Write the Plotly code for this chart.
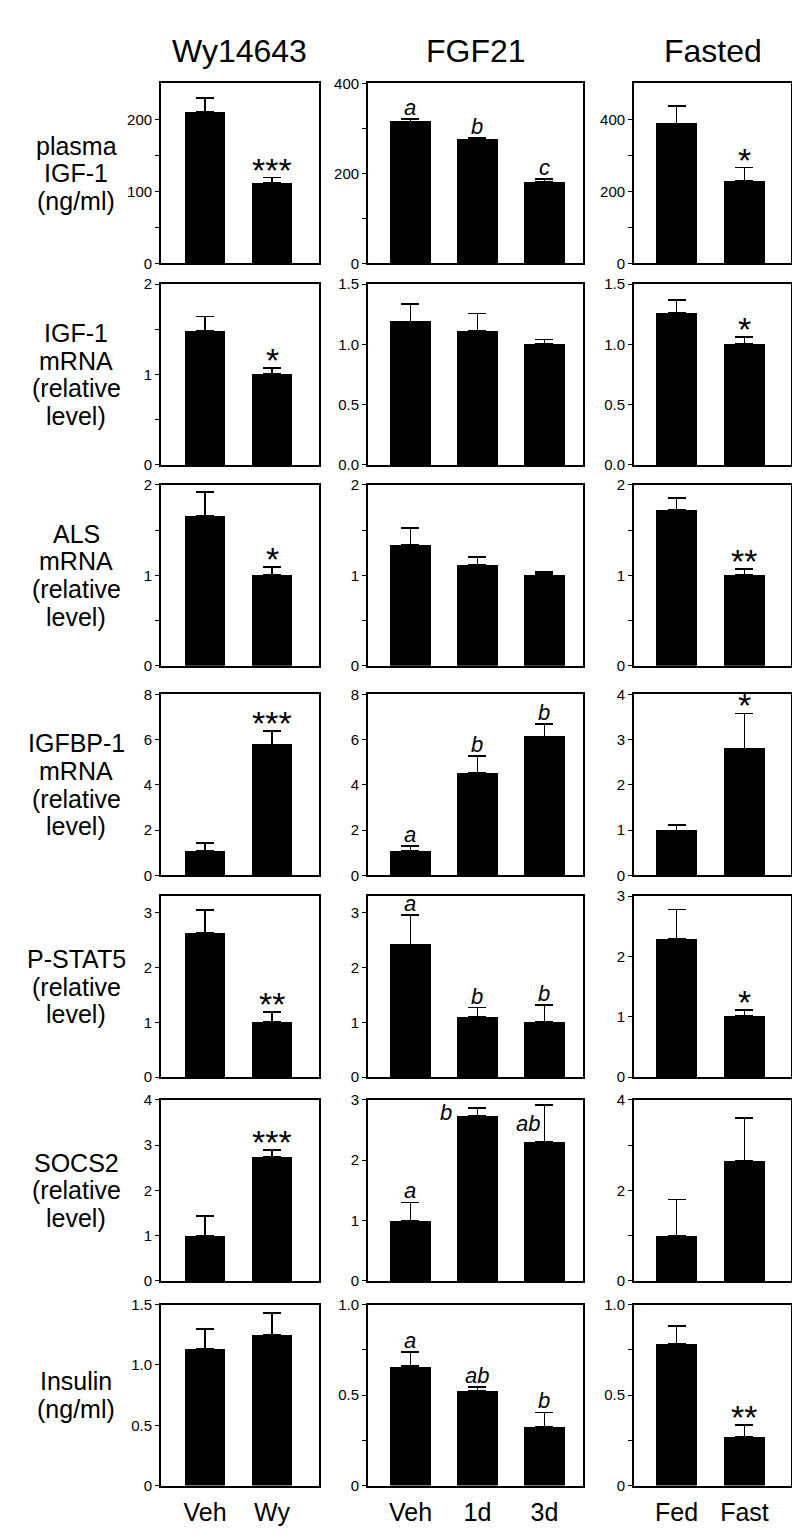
import plotly.graph_objects as go

W, H = 800, 1540
FONT = "Liberation Sans, Arial, Helvetica, sans-serif"

# ---------------- data ----------------
col_titles = ["Wy14643", "FGF21", "Fasted"]
wy_groups = ["Veh", "Wy"]
fgf_groups = ["Veh", "1d", "3d"]
fast_groups = ["Fed", "Fast"]
groups = [wy_groups, fgf_groups, fast_groups]

row_labels = [
    ["plasma", "IGF-1", "(ng/ml)"],
    ["IGF-1", "mRNA", "(relative", "level)"],
    ["ALS", "mRNA", "(relative", "level)"],
    ["IGFBP-1", "mRNA", "(relative", "level)"],
    ["P-STAT5", "(relative", "level)"],
    ["SOCS2", "(relative", "level)"],
    ["Insulin", "(ng/ml)"],
]

# plasma IGF-1 (ng/ml)
igf1_plasma_wy = [210, 111]
igf1_plasma_wy_sem = [20, 8]
igf1_plasma_fgf = [315, 275, 180]
igf1_plasma_fgf_sem = [5, 3, 7]
igf1_plasma_fast = [388, 229]
igf1_plasma_fast_sem = [48, 37]

# IGF-1 mRNA
igf1_mrna_wy = [1.48, 1.01]
igf1_mrna_wy_sem = [0.16, 0.06]
igf1_mrna_fgf = [1.19, 1.11, 1.005]
igf1_mrna_fgf_sem = [0.145, 0.145, 0.035]
igf1_mrna_fast = [1.26, 1.005]
igf1_mrna_fast_sem = [0.105, 0.055]

# ALS mRNA
als_wy = [1.66, 1.005]
als_wy_sem = [0.26, 0.09]
als_fgf = [1.34, 1.12, 1.01]
als_fgf_sem = [0.185, 0.08, 0.03]
als_fast = [1.72, 1.005]
als_fast_sem = [0.13, 0.06]

# IGFBP-1 mRNA
igfbp1_wy = [1.07, 5.78]
igfbp1_wy_sem = [0.38, 0.61]
igfbp1_fgf = [1.08, 4.51, 6.13]
igfbp1_fgf_sem = [0.23, 0.76, 0.56]
igfbp1_fast = [0.99, 2.80]
igfbp1_fast_sem = [0.13, 0.78]

# P-STAT5
pstat5_wy = [2.63, 1.00]
pstat5_wy_sem = [0.42, 0.19]
pstat5_fgf = [2.42, 1.09, 1.01]
pstat5_fgf_sem = [0.54, 0.18, 0.31]
pstat5_fast = [2.29, 1.01]
pstat5_fast_sem = [0.49, 0.10]

# SOCS2
socs2_wy = [1.00, 2.74]
socs2_wy_sem = [0.43, 0.16]
socs2_fgf = [1.00, 2.73, 2.31]
socs2_fgf_sem = [0.30, 0.13, 0.61]
socs2_fast = [1.00, 2.655]
socs2_fast_sem = [0.80, 0.95]

# Insulin (ng/ml)
insulin_wy = [1.134, 1.252]
insulin_wy_sem = [0.164, 0.18]
insulin_fgf = [0.66, 0.525, 0.327]
insulin_fgf_sem = [0.08, 0.02, 0.077]
insulin_fast = [0.782, 0.271]
insulin_fast_sem = [0.098, 0.064]

# significance marks
marks = [
    [["", "***"], ["a", "b", "c"], ["", "*"]],
    [["", "*"], ["", "", ""], ["", "*"]],
    [["", "*"], ["", "", ""], ["", "**"]],
    [["", "***"], ["a", "b", "b"], ["", "*"]],
    [["", "**"], ["a", "b", "b"], ["", "*"]],
    [["", "***"], ["a", "b", "ab"], ["", ""]],
    [["", ""], ["a", "ab", "b"], ["", "**"]],
]

means = [
    [igf1_plasma_wy, igf1_plasma_fgf, igf1_plasma_fast],
    [igf1_mrna_wy, igf1_mrna_fgf, igf1_mrna_fast],
    [als_wy, als_fgf, als_fast],
    [igfbp1_wy, igfbp1_fgf, igfbp1_fast],
    [pstat5_wy, pstat5_fgf, pstat5_fast],
    [socs2_wy, socs2_fgf, socs2_fast],
    [insulin_wy, insulin_fgf, insulin_fast],
]
sems = [
    [igf1_plasma_wy_sem, igf1_plasma_fgf_sem, igf1_plasma_fast_sem],
    [igf1_mrna_wy_sem, igf1_mrna_fgf_sem, igf1_mrna_fast_sem],
    [als_wy_sem, als_fgf_sem, als_fast_sem],
    [igfbp1_wy_sem, igfbp1_fgf_sem, igfbp1_fast_sem],
    [pstat5_wy_sem, pstat5_fgf_sem, pstat5_fast_sem],
    [socs2_wy_sem, socs2_fgf_sem, socs2_fast_sem],
    [insulin_wy_sem, insulin_fgf_sem, insulin_fast_sem],
]

# y-axis: (max, tick values, tick labels)
def ax(mx, vals, labs):
    return dict(mx=mx, vals=vals, labs=labs)

yaxes_cfg = [
    [ax(250, [0, 50, 100, 150, 200], ["0", "", "100", "", "200"]),
     ax(400, [0, 100, 200, 300, 400], ["0", "", "200", "", "400"]),
     ax(500, [0, 100, 200, 300, 400], ["0", "", "200", "", "400"])],
    [ax(2, [0, 0.5, 1, 1.5, 2], ["0", "", "1", "", "2"]),
     ax(1.5, [0, 0.5, 1, 1.5], ["0.0", "0.5", "1.0", "1.5"]),
     ax(1.5, [0, 0.5, 1, 1.5], ["0.0", "0.5", "1.0", "1.5"])],
    [ax(2, [0, 0.5, 1, 1.5, 2], ["0", "", "1", "", "2"]),
     ax(2, [0, 0.5, 1, 1.5, 2], ["0", "", "1", "", "2"]),
     ax(2, [0, 0.5, 1, 1.5, 2], ["0", "", "1", "", "2"])],
    [ax(8, [0, 2, 4, 6, 8], ["0", "2", "4", "6", "8"]),
     ax(8, [0, 2, 4, 6, 8], ["0", "2", "4", "6", "8"]),
     ax(4, [0, 1, 2, 3, 4], ["0", "1", "2", "3", "4"])],
    [ax(3.3, [0, 1, 2, 3], ["0", "1", "2", "3"]),
     ax(3.3, [0, 1, 2, 3], ["0", "1", "2", "3"]),
     ax(3, [0, 1, 2, 3], ["0", "1", "2", "3"])],
    [ax(4, [0, 1, 2, 3, 4], ["0", "1", "2", "3", "4"]),
     ax(3, [0, 1, 2, 3], ["0", "1", "2", "3"]),
     ax(4, [0, 1, 2, 3, 4], ["0", "", "2", "", "4"])],
    [ax(1.5, [0, 0.5, 1, 1.5], ["0", "0.5", "1.0", "1.5"]),
     ax(1.0, [0, 0.25, 0.5, 0.75, 1.0], ["0", "", "0.5", "", "1.0"]),
     ax(1.0, [0, 0.25, 0.5, 0.75, 1.0], ["0", "", "0.5", "", "1.0"])],
]

# ---------------- layout geometry (pixels) ----------------
col_px = [(153, 311), (360, 575), (626, 783)]
col_xrange = [(-0.657, 1.701), (-0.634, 2.575), (-0.625, 1.684)]
row_px = [(67, 249), (270, 453), (473, 656), (685, 868), (889, 1072), (1095, 1278), (1302, 1485)]
BAR_W = 0.61

# special placement of letters beside error bars: (row, col, bar) -> (xshift px, baseline value)
side_marks = {(5, 1, 1): (-31, 2.64), (5, 1, 2): (-16, 2.45)}

fig = go.Figure()
layout = dict(
    width=W, height=H, margin=dict(l=0, r=0, t=0, b=0),
    paper_bgcolor="white", plot_bgcolor="white", showlegend=False,
    font=dict(family=FONT, color="black"),
    bargap=0,
)
annotations = []

for r in range(7):
    for c in range(3):
        idx = r * 3 + c + 1
        xa = "x" if idx == 1 else f"x{idx}"
        ya = "y" if idx == 1 else f"y{idx}"
        m = means[r][c]
        s = sems[r][c]
        n = len(m)
        xs = list(range(n))
        fig.add_trace(go.Bar(
            x=xs, y=m, width=[BAR_W] * n, xaxis=xa, yaxis=ya,
            marker=dict(color="black", line=dict(width=0)),
            error_y=dict(type="data", array=s, arrayminus=[0] * n, symmetric=False,
                         color="black", thickness=1.8, width=9),
            hoverinfo="skip",
        ))
        x0, x1 = col_px[c]
        t, b = row_px[r]
        cfg = yaxes_cfg[r][c]
        xkey = "xaxis" if idx == 1 else f"xaxis{idx}"
        ykey = "yaxis" if idx == 1 else f"yaxis{idx}"
        xdict = dict(
            domain=[x0 / W, x1 / W], anchor=ya, range=list(col_xrange[c]),
            showline=True, mirror=True, linecolor="black", linewidth=1.7,
            showgrid=False, zeroline=False, fixedrange=True,
        )
        if r == 6:
            xdict.update(tickmode="array", tickvals=xs, ticktext=groups[c],
                         ticks="", ticklen=0,
                         tickfont=dict(family=FONT, size=25, color="black"),
                         ticklabelstandoff=4)
        else:
            xdict.update(showticklabels=False, ticks="")
        layout[xkey] = xdict
        layout[ykey] = dict(
            domain=[1 - b / H, 1 - t / H], anchor=xa, range=[0, cfg["mx"]],
            showline=True, mirror=True, linecolor="black", linewidth=1.7,
            showgrid=False, zeroline=False, fixedrange=True,
            tickmode="array", tickvals=cfg["vals"], ticktext=cfg["labs"],
            ticks="outside", ticklen=4, tickwidth=1.2, tickcolor="black",
            tickfont=dict(family=FONT, size=15, color="black"),
        )
        # significance marks
        for i, txt in enumerate(marks[r][c]):
            if not txt:
                continue
            is_star = "*" in txt
            if (r, c, i) in side_marks:
                xs_px, yv = side_marks[(r, c, i)]
                annotations.append(dict(
                    x=i, y=yv, xref=xa, yref=ya, text=f"<i>{txt}</i>", showarrow=False,
                    xanchor="center", yanchor="bottom", xshift=xs_px, yshift=-5,
                    font=dict(family=FONT, size=22, color="black"),
                ))
            elif is_star:
                annotations.append(dict(
                    x=i, y=m[i] + s[i], xref=xa, yref=ya, text=txt, showarrow=False,
                    xanchor="center", yanchor="bottom", yshift=-13,
                    font=dict(family=FONT, size=34, color="black"),
                ))
            else:
                annotations.append(dict(
                    x=i, y=m[i] + s[i], xref=xa, yref=ya, text=f"<i>{txt}</i>", showarrow=False,
                    xanchor="center", yanchor="bottom", yshift=-3,
                    font=dict(family=FONT, size=22, color="black"),
                ))

# column titles
for c, ttl in enumerate(col_titles):
    x0, x1 = col_px[c]
    annotations.append(dict(
        x=(x0 + x1) / 2 / W, y=1 - 34 / H, xref="paper", yref="paper", text=ttl,
        showarrow=False, xanchor="center", yanchor="middle",
        font=dict(family=FONT, size=32, color="black"),
    ))

# row labels (one annotation per line for tight line spacing)
LINE = 28
for r, lines in enumerate(row_labels):
    t, b = row_px[r]
    cy = (t + b) / 2
    nl = len(lines)
    for k, ln in enumerate(lines):
        yy = cy + (k - (nl - 1) / 2) * LINE
        annotations.append(dict(
            x=68 / W, y=1 - yy / H, xref="paper", yref="paper", text=ln,
            showarrow=False, xanchor="center", yanchor="middle", borderpad=0,
            font=dict(family=FONT, size=25, color="black"),
        ))

layout["annotations"] = annotations
fig.update_layout(**layout)
fig.write_html("out.html")
